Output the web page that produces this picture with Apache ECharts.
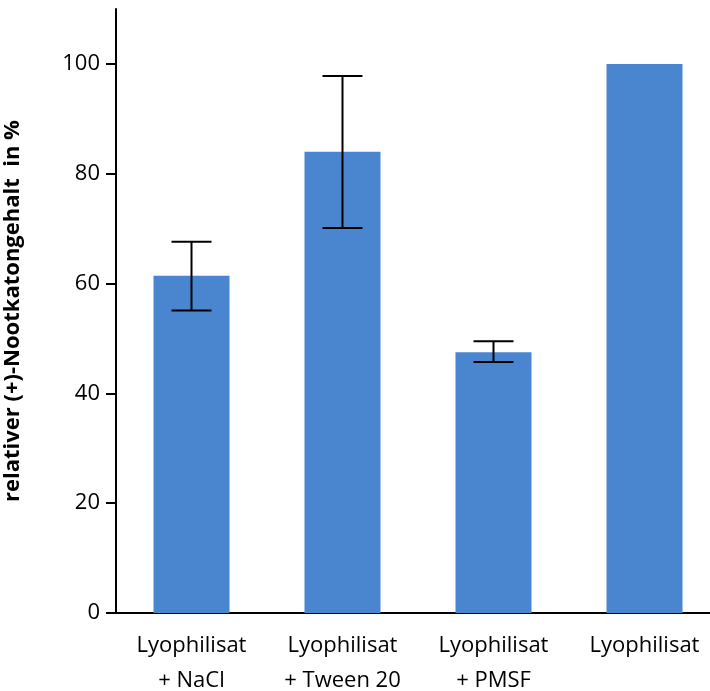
<!DOCTYPE html>
<html>
<head>
<meta charset="utf-8">
<script src="https://cdn.jsdelivr.net/npm/echarts@6/dist/echarts.min.js"></script>
<style>
  html, body { margin: 0; padding: 0; background: #fff; }
  #chart { width: 710px; height: 691px; }
</style>
</head>
<body>
<div id="chart"></div>
<script>
// data
var categories = ['Lyophilisat\n+ NaCl', 'Lyophilisat\n+ Tween 20', 'Lyophilisat\n+ PMSF', 'Lyophilisat']
var values = [61.4, 84.0, 47.5, 100]
var errLow = [55.1, 70.1, 45.7, null]
var errHigh = [67.6, 97.8, 49.5, null]
var yTicks = [0, 20, 40, 60, 80, 100]

var errData = []
for (var i = 0; i < categories.length; i++) {
  if (errLow[i] != null) errData.push([i, errLow[i], errHigh[i]])
}

var font = '"Open Sans", Lato, sans-serif'
var chart = echarts.init(document.getElementById('chart'))
var option = {
  animation: false,
  grid: { left: 116, width: 604, top: 9, bottom: 78, outerBoundsMode: 'none' },
  xAxis: {
    type: 'category',
    data: categories,
    axisLine: { lineStyle: { color: '#000', width: 2 } },
    axisTick: { alignWithLabel: true, interval: 0, length: 9, lineStyle: { color: '#000', width: 2 } },
    axisLabel: { interval: 0, color: '#000', fontSize: 22, fontFamily: font, lineHeight: 35, margin: 15 }
  },
  yAxis: {
    type: 'value',
    min: 0,
    max: 110,
    interval: 20,
    name: 'relativer (+)-Nootkatongehalt  in %',
    nameLocation: 'middle',
    nameGap: 92,
    nameTextStyle: { color: '#000', fontSize: 22, fontWeight: 'bold', fontFamily: font },
    splitLine: { show: false },
    axisLine: { show: true, lineStyle: { color: '#000', width: 2 } },
    axisTick: { show: true, length: 10, customValues: yTicks, lineStyle: { color: '#000', width: 2 } },
    axisLabel: { color: '#000', fontSize: 22, fontFamily: font, margin: 16, customValues: yTicks }
  },
  series: [
    {
      type: 'bar',
      data: values,
      barWidth: 76,
      itemStyle: { color: '#4A86CF' }
    },
    {
      type: 'custom',
      data: errData,
      z: 10,
      renderItem: function (params, api) {
        var x = api.value(0)
        var lo = api.coord([x, api.value(1)])
        var hi = api.coord([x, api.value(2)])
        var half = 20
        var style = { stroke: '#000', lineWidth: 2 }
        return {
          type: 'group',
          children: [
            { type: 'line', shape: { x1: hi[0], y1: hi[1], x2: lo[0], y2: lo[1] }, style: style },
            { type: 'line', shape: { x1: hi[0] - half, y1: hi[1], x2: hi[0] + half, y2: hi[1] }, style: style },
            { type: 'line', shape: { x1: lo[0] - half, y1: lo[1], x2: lo[0] + half, y2: lo[1] }, style: style }
          ]
        }
      }
    }
  ]
}
chart.setOption(option)
</script>
</body>
</html>
